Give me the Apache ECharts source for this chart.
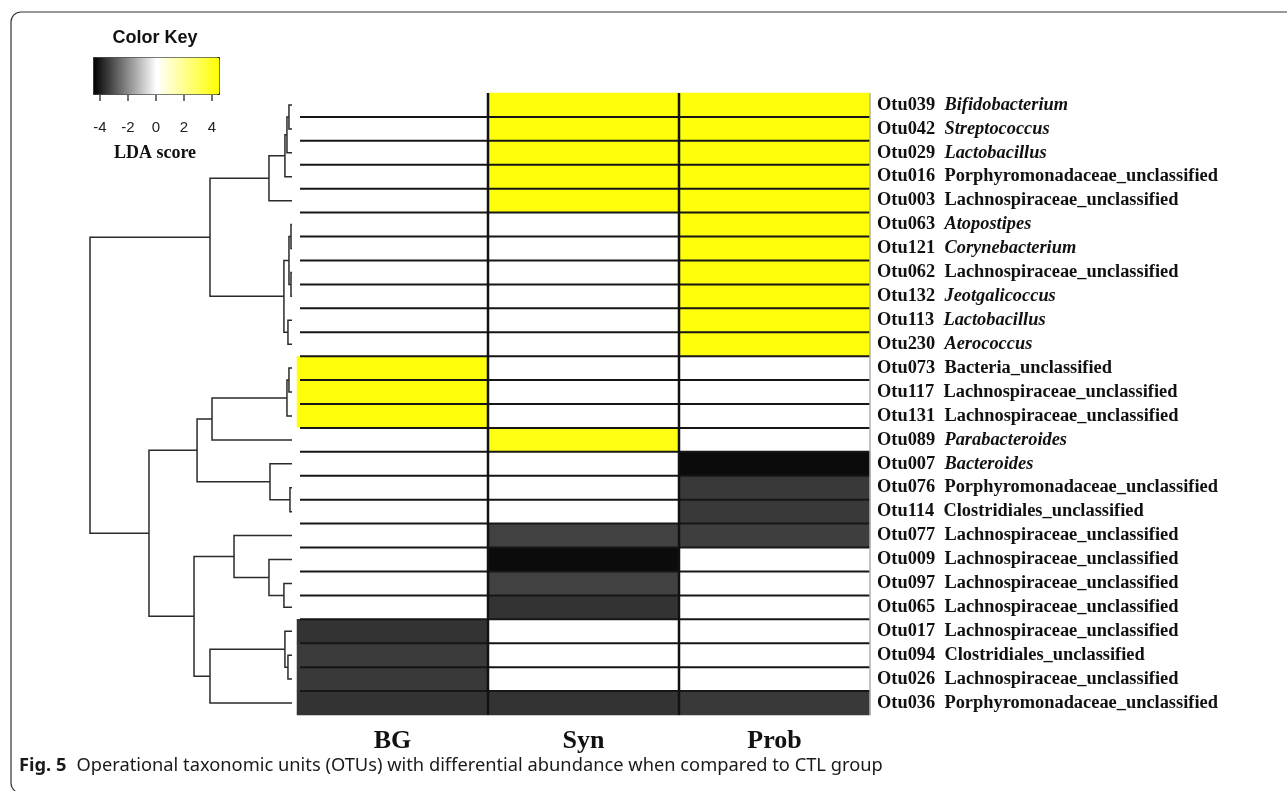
<!DOCTYPE html>
<html>
<head>
<meta charset="utf-8">
<script src="https://cdn.jsdelivr.net/npm/echarts@6/dist/echarts.min.js"></script>
<style>
html,body{margin:0;padding:0;background:#fff;}
#chart{width:1287px;height:791px;}
</style>
</head>
<body>
<div id="chart"></div>
<script>
// ---- data ----
const columns = ['BG', 'Syn', 'Prob'];
const rowIds = ['Otu039','Otu042','Otu029','Otu016','Otu003','Otu063','Otu121','Otu062','Otu132','Otu113','Otu230','Otu073','Otu117','Otu131','Otu089','Otu007','Otu076','Otu114','Otu077','Otu009','Otu097','Otu065','Otu017','Otu094','Otu026','Otu036'];
const rowTaxa = ['Bifidobacterium','Streptococcus','Lactobacillus','Porphyromonadaceae_unclassified','Lachnospiraceae_unclassified','Atopostipes','Corynebacterium','Lachnospiraceae_unclassified','Jeotgalicoccus','Lactobacillus','Aerococcus','Bacteria_unclassified','Lachnospiraceae_unclassified','Lachnospiraceae_unclassified','Parabacteroides','Bacteroides','Porphyromonadaceae_unclassified','Clostridiales_unclassified','Lachnospiraceae_unclassified','Lachnospiraceae_unclassified','Lachnospiraceae_unclassified','Lachnospiraceae_unclassified','Lachnospiraceae_unclassified','Clostridiales_unclassified','Lachnospiraceae_unclassified','Porphyromonadaceae_unclassified'];
const bgValues   = [0,0,0,0,0, 0,0,0,0,0,0, 4.3,4.3,4.3, 0, 0,0,0, 0,0,0,0, -3.6,-3.45,-3.5,-3.6];
const synValues  = [4.3,4.3,4.3,4.3,4.3, 0,0,0,0,0,0, 0,0,0, 4.2, 0,0,0, -3.35,-4.3,-3.35,-3.6, 0,0,0,-3.6];
const probValues = [4.3,4.3,4.3,4.3,4.3, 4.3,4.3,4.3,4.3,4.3,4.3, 0,0,0, 0, -4.3,-3.5,-3.5, -3.4,0,0,0, 0,0,0,-3.5];
// row dendrogram merges (hclust style: negative = leaf row number, positive = earlier merge)
const mergeLeft   = [-1, 1, 2, 3, -6, -8, 5, -10, 7, 4, -12, 11, 12, -17, -16, 13, -21, -20, -19, -24, -23, 21, 19, 16, 10];
const mergeRight  = [-2, -3, -4, -5, -7, -9, 6, -11, 8, 9, -13, -14, -15, -18, 14, 15, -22, 17, 18, -25, 20, -26, 22, 23, 24];
const mergeHeight = [0.15, 0.25, 0.35, 1.14, 0.05, 0.05, 0.15, 0.2, 0.4, 4.06, 0.15, 0.25, 3.96, 0.1, 1.09, 4.7, 0.4, 1.14, 2.87, 0.2, 0.35, 4.06, 4.85, 7.08, 10];
const keyTicks = [-4, -2, 0, 2, 4];
const keyMin = -4.5, keyMax = 4.5;

// ---- build ----
const heatData = [];
[bgValues, synValues, probValues].forEach((arr, c) => arr.forEach((v, r) => heatData.push([c, r, v])));

const nodeY = [], nodeH = [];
function pos(id) {
  if (id < 0) return { y: -id - 1, h: 0 };
  return { y: nodeY[id - 1], h: nodeH[id - 1] };
}
const dendroData = [];
for (let k = 0; k < mergeLeft.length; k++) {
  const a = pos(mergeLeft[k]), b = pos(mergeRight[k]);
  nodeY.push((a.y + b.y) / 2);
  nodeH.push(mergeHeight[k]);
  dendroData.push([a.h, a.y, mergeHeight[k], b.y, b.h]);
}

const serif = '"Liberation Serif", "Times New Roman", serif';
const sans = '"Liberation Sans", Arial, sans-serif';
const chart = echarts.init(document.getElementById('chart'), null, { renderer: 'canvas' });

const option = {
  backgroundColor: '#ffffff',
  animation: false,
  title: [{
    left: 14, top: 752,
    text: '{b|Fig. 5}  {n|Operational taxonomic units (OTUs) with differential abundance when compared to CTL group}',
    textStyle: {
      rich: {
        b: { fontFamily: '"Noto Sans", sans-serif', fontWeight: 'bold', fontSize: 18.3, color: '#1a1a1a' },
        n: { fontFamily: '"Noto Sans", sans-serif', fontWeight: 'normal', fontSize: 18.3, color: '#1a1a1a' }
      }
    }
  }],
  graphic: [
    { type: 'rect', shape: { x: 11, y: 12, width: 1400, height: 781, r: 10 }, style: { fill: 'none', stroke: '#333', lineWidth: 1.2 }, silent: true },
    { type: 'text', x: 155, y: 38, style: { text: 'Color Key', font: 'bold 18px ' + sans, fill: '#111', align: 'center', verticalAlign: 'middle' } },
    { type: 'text', x: 155, y: 153, style: { text: 'LDA score', font: 'bold 18px ' + serif, fill: '#111', align: 'center', verticalAlign: 'middle' } }
  ],
  grid: [
    { left: 297, top: 93, width: 573, height: 622 },
    { left: 90, top: 93, width: 202, height: 622 },
    { left: 93, top: 57, width: 126, height: 37 }
  ],
  xAxis: [
    { type: 'category', gridIndex: 0, data: columns, position: 'bottom',
      axisLine: { show: false }, axisTick: { show: false }, splitLine: { show: false },
      axisLabel: { margin: 13, fontFamily: serif, fontWeight: 'bold', fontSize: 26, color: '#111' } },
    { type: 'value', gridIndex: 1, min: 0, max: 10, inverse: true, show: false },
    { type: 'value', gridIndex: 2, min: keyMin, max: keyMax, position: 'bottom',
      axisLine: { show: false }, splitLine: { show: false },
      axisTick: { show: true, customValues: keyTicks, length: 7, lineStyle: { color: '#444', width: 1.5 } },
      axisLabel: { customValues: keyTicks, margin: 26, fontFamily: sans, fontSize: 15, color: '#222' } }
  ],
  yAxis: [
    { type: 'category', gridIndex: 0, data: rowIds, inverse: true, position: 'right',
      axisLine: { show: false }, axisTick: { show: false }, splitLine: { show: false },
      axisLabel: {
        margin: 7, fontFamily: serif, fontSize: 18.4, fontWeight: 'bold', color: '#111',
        formatter: (v, i) => '{b|' + rowIds[i] + '}  {' + (rowTaxa[i].indexOf('_') >= 0 ? 'b' : 'i') + '|' + rowTaxa[i] + '}',
        rich: {
          b: { fontFamily: serif, fontSize: 18.4, fontWeight: 'bold', color: '#111' },
          i: { fontFamily: serif, fontSize: 18.4, fontWeight: 'bold', fontStyle: 'italic', color: '#111' }
        }
      } },
    { type: 'value', gridIndex: 1, min: -0.5, max: 25.5, inverse: true, show: false },
    { type: 'value', gridIndex: 2, min: 0, max: 1, show: false }
  ],
  visualMap: [{
    type: 'continuous', min: keyMin, max: keyMax, seriesIndex: 0,
    orient: 'horizontal', left: 93, top: 57, itemWidth: 37, itemHeight: 126,
    padding: 0, borderColor: '#222', borderWidth: 1, calculable: false, text: null,
    hoverLink: false,
    inRange: { color: ['#000000', '#ffffff', '#ffff00'] }
  }],
  series: [
    { type: 'heatmap', xAxisIndex: 0, yAxisIndex: 0, data: heatData,
      emphasis: { disabled: true }, itemStyle: { borderWidth: 0 } },
    { type: 'custom', xAxisIndex: 0, yAxisIndex: 0, clip: false, silent: true,
      data: rowIds.slice(0, rowIds.length - 1).map((_, r) => [0, r]),
      encode: { x: 0, y: 1 },
      renderItem: function (params, api) {
        const r = api.value(1);
        const a = api.coord([0, r]), b = api.coord([2, r]), s = api.size([1, 1]);
        const y = a[1] + s[1] / 2;
        return { type: 'line', shape: { x1: a[0] - s[0] / 2 + 3, y1: y, x2: b[0] + s[0] / 2, y2: y },
          style: { stroke: '#161616', lineWidth: 2 } };
      } },
    { type: 'custom', xAxisIndex: 0, yAxisIndex: 0, clip: false, silent: true,
      data: [[0, 0], [1, 0], [2, 0]],
      encode: { x: 0, y: 1 },
      renderItem: function (params, api) {
        const c = api.value(0);
        const a = api.coord([c, 0]), b = api.coord([c, rowIds.length - 1]), s = api.size([1, 1]);
        const x = a[0] + s[0] / 2;
        const last = c === columns.length - 1;
        return { type: 'line', shape: { x1: x, y1: a[1] - s[1] / 2, x2: x, y2: b[1] + s[1] / 2 },
          style: { stroke: last ? '#b0b0b0' : '#111', lineWidth: last ? 1.5 : 2.5 } };
      } },
    { type: 'custom', xAxisIndex: 1, yAxisIndex: 1, clip: false, silent: true,
      data: dendroData,
      encode: { x: [0, 2, 4], y: [1, 3] },
      renderItem: function (params, api) {
        const p1 = api.coord([api.value(0), api.value(1)]);
        const p2 = api.coord([api.value(2), api.value(1)]);
        const p3 = api.coord([api.value(2), api.value(3)]);
        const p4 = api.coord([api.value(4), api.value(3)]);
        return { type: 'polyline', shape: { points: [p1, p2, p3, p4] },
          style: { stroke: '#2a2a2a', lineWidth: 1.5, fill: 'none' } };
      } }
  ]
};
chart.setOption(option);
</script>
</body>
</html>
